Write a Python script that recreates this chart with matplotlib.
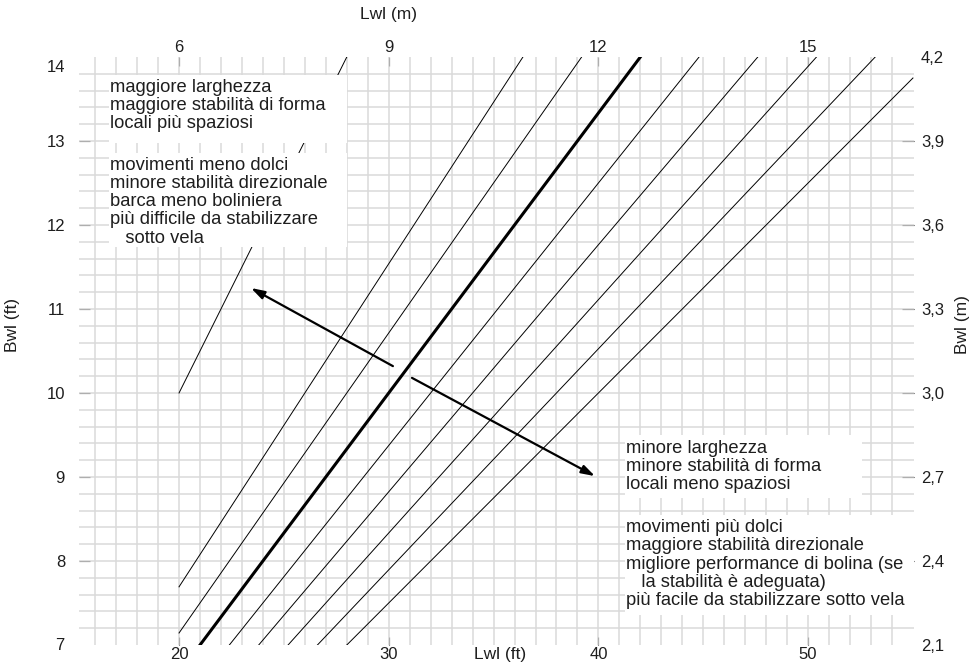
import numpy as np
import matplotlib
matplotlib.use("Agg")
from matplotlib import pyplot as plt
from matplotlib import transforms as mtrans
from matplotlib.patches import Rectangle

plt.rcParams['font.family'] = ['Liberation Sans', 'DejaVu Sans']

# Lwl / Bwl ratio lines, drawn over the waterline length range
ratios = [2.0, 2.6, 2.8, 3.0, 3.2, 3.4, 3.6, 3.8, 4.0]
main_ratio = 3.0
lwl_ft = np.array([20.0, 55.0])

# axis ticks
lwl_ft_ticks = [20, 30, 40, 50]
lwl_m_ticks = [6, 9, 12, 15]
bwl_ft_ticks = [8, 9, 10, 11, 12, 13]
bwl_m_ticks = [2.1, 2.4, 2.7, 3.0, 3.3, 3.6, 3.9, 4.2]

# annotation texts
txt_wide_1 = "maggiore larghezza\nmaggiore stabilità di forma\nlocali più spaziosi"
txt_wide_2 = ("movimenti meno dolci\nminore stabilità direzionale\nbarca meno boliniera\n"
              "più difficile da stabilizzare\n   sotto vela")
txt_narrow_1 = "minore larghezza\nminore stabilità di forma\nlocali meno spaziosi"
txt_narrow_2 = ("movimenti più dolci\nmaggiore stabilità direzionale\n"
                "migliore performance di bolina (se\n   la stabilità è adeguata)\n"
                "più facile da stabilizzare sotto vela")

ink = '#1e1e1e'
fs = 13.2
tfs = 12

fig = plt.figure(figsize=(9.76, 6.63), dpi=100)
ax = fig.add_axes([79 / 976, 18 / 663, 835 / 976, 588 / 663])
ax.set_xlim(15.23, 55.05)
ax.set_ylim(7, 14)
for s in ax.spines.values():
    s.set_visible(False)

# background grid: 1 ft across, 0.2 ft up
ax.set_xticks(np.arange(16, 55), minor=True)
ax.set_yticks(np.round(np.arange(7.2, 14.0, 0.2), 1), minor=True)
ax.xaxis.remove_overlapping_locs = False
ax.yaxis.remove_overlapping_locs = False
ax.grid(which='minor', color='#dadada', lw=1.1)
ax.tick_params(which='minor', length=0)

ax.set_xticks(lwl_ft_ticks)
ax.set_yticks(bwl_ft_ticks)
ax.tick_params(axis='x', direction='in', length=6, width=0.8, pad=1.5,
               labelsize=tfs, colors=ink)
ax.tick_params(axis='y', direction='in', length=8, width=0.8, pad=10,
               labelsize=tfs, colors=ink)

yt = mtrans.blended_transform_factory(ax.transAxes, ax.transData)
ax.text(-0.017, 7, '7', transform=yt, ha='right', va='center', fontsize=tfs, color=ink)
ax.text(-0.017, 13.87, '14', transform=yt, ha='right', va='center', fontsize=tfs, color=ink)

# metric scales (1 ft ~ 0.3 m)
secx = ax.secondary_xaxis('top', functions=(lambda f: f * 0.3, lambda m: m / 0.3))
secx.set_xticks(lwl_m_ticks)
secx.tick_params(direction='in', length=6.5, width=0.8, pad=1.5, labelsize=tfs, colors=ink)
secx.spines['top'].set_visible(False)

secy = ax.secondary_yaxis('right', functions=(lambda f: f * 0.3, lambda m: m / 0.3))
secy.set_yticks(bwl_m_ticks, labels=[f"{v:.1f}".replace('.', ',') for v in bwl_m_ticks])
secy.tick_params(direction='in', length=8.5, width=0.8, pad=5, labelsize=tfs, colors=ink)
secy.spines['right'].set_visible(False)
for t in (secy.yaxis.get_major_ticks()[0], secy.yaxis.get_major_ticks()[-1]):
    t.tick1line.set_visible(False)
    t.tick2line.set_visible(False)

# ratio lines
for r in ratios:
    lw = 2.2 if r == main_ratio else 0.7
    ax.plot(lwl_ft, lwl_ft / r, color='black', lw=lw, zorder=2)

# white panels behind the notes
for x0, y0, x1, y1 in [(16.66, 12.976, 28.01, 13.786), (16.66, 11.738, 28.01, 12.857),
                       (41.27, 8.75, 52.57, 9.5), (41.27, 7.357, 55.05, 8.548)]:
    ax.add_patch(Rectangle((x0, y0), x1 - x0, y1 - y0, facecolor='white',
                           edgecolor='none', zorder=3))

kw = dict(ha='left', va='top', fontsize=fs, color=ink, linespacing=1.1, zorder=4)
ax.text(16.71, 13.74, txt_wide_1, **kw)
ax.text(16.71, 12.815, txt_wide_2, **kw)
ax.text(41.31, 9.445, txt_narrow_1, **kw)
ax.text(41.31, 8.50, txt_narrow_2, **kw)

arrow = dict(arrowstyle='-|>,head_length=0.8,head_width=0.25', lw=1.6,
             color='black', shrinkA=0, shrinkB=0)
ax.annotate('', xy=(23.43, 11.25), xytext=(30.20, 10.32), arrowprops=arrow, zorder=5)
ax.annotate('', xy=(39.84, 9.01), xytext=(31.11, 10.18), arrowprops=arrow, zorder=5)

# axis titles
xt = mtrans.blended_transform_factory(ax.transData, fig.transFigure)
ax.text(30, 1 - 15 / 663, 'Lwl (m)', transform=xt, ha='center', va='center',
        fontsize=12.5, color=ink)
ax.text(35.3, 8 / 663, 'Lwl (ft)', transform=xt, ha='center', va='center',
        fontsize=12.5, color=ink)
fig.text(12 / 976, 1 - 325 / 663, 'Bwl (ft)', rotation=90, ha='center', va='center',
         fontsize=12.5, color=ink)
fig.text(962 / 976, 1 - 325 / 663, 'Bwl (m)', rotation=90, ha='center', va='center',
         fontsize=12.5, color=ink)

plt.savefig('out.png', dpi=100)
